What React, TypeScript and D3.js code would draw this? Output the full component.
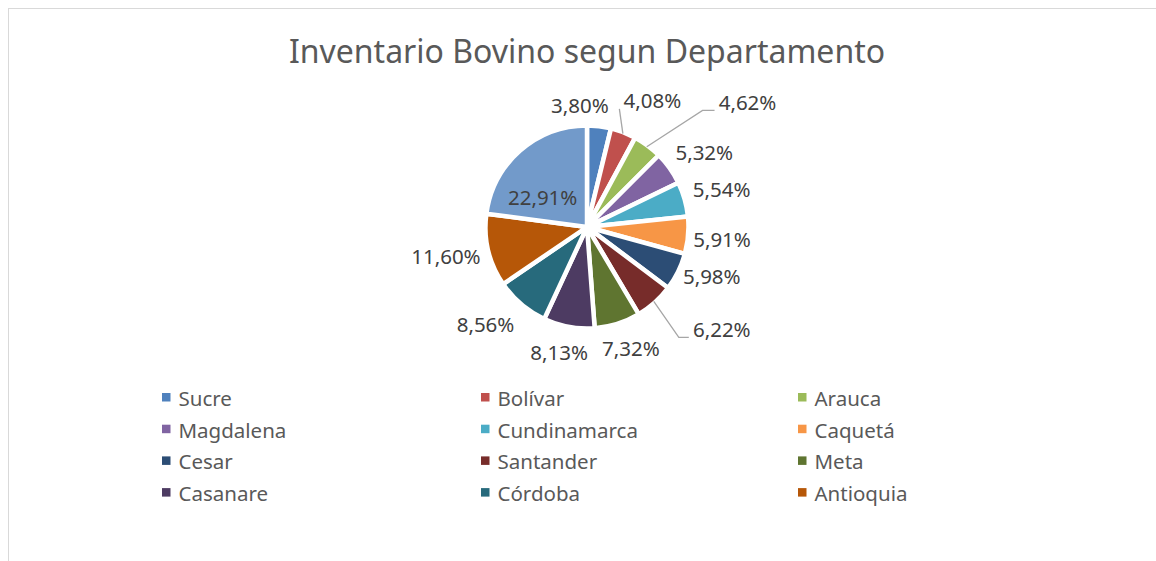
import { useEffect, useRef } from "react";
import * as d3 from "d3";

// Data (percent of the national cattle inventory)
const departamentos = [
  "Sucre", "Bolívar", "Arauca", "Magdalena", "Cundinamarca", "Caquetá",
  "Cesar", "Santander", "Meta", "Casanare", "Córdoba", "Antioquia", "Otros",
];
const porcentajes = [3.8, 4.08, 4.62, 5.32, 5.54, 5.91, 5.98, 6.22, 7.32, 8.13, 8.56, 11.6, 22.91];
const colores = [
  "#4f81bd", "#c0504d", "#9bbb59", "#8064a2", "#4bacc6", "#f79646",
  "#2c4d75", "#772c2a", "#5f7530", "#4d3b62", "#276a7c", "#b65708", "#729aca",
];

// Excel "best fit" label tweaks (layout only)
const labelNudge: [number, number][] = [
  [-23.6, 5.6], [15.5, -6.7], [77.5, -22], [4, 0], [1, -2.5], [-3.5, 2],
  [0, -6.5], [42, 7], [2, 0], [-3, 0], [-11.5, 0], [0, 0], [-12.7, 7.1],
];
const leaderIdx = [1, 2, 7];
const leaderFlat: Record<number, number> = { 1: 0, 2: 12, 7: 10 };
const legendRows = 4;

const W = 1156;
const H = 561;
const FONT = "'Noto Sans', sans-serif";

export default function App() {
  const ref = useRef<SVGSVGElement>(null);

  useEffect(() => {
    const svg = d3.select(ref.current);
    svg.selectAll("*").remove();

    const cx = 587;
    const cy = 227;
    const radius = 101.5;

    // chart area border
    svg.append("rect")
      .attr("x", 8.5).attr("y", 8.5)
      .attr("width", W + 40).attr("height", H + 40)
      .attr("fill", "#fff")
      .attr("stroke", "#d9d9d9")
      .attr("stroke-width", 1);

    // title
    svg.append("text")
      .attr("x", cx).attr("y", 63)
      .attr("text-anchor", "middle")
      .style("font-family", FONT)
      .style("font-size", "32px")
      .style("fill", "#595959")
      .text("Inventario Bovino segun Departamento");

    const data = departamentos.map((d, i) => ({ name: d, value: porcentajes[i], color: colores[i], i }));

    const pie = d3.pie<any>()
      .value(d => d.value)
      .sort(null)
      .startAngle(0)
      .endAngle(2 * Math.PI);

    const arc = d3.arc<any>().innerRadius(0).outerRadius(radius);

    const arcs = pie(data);
    const g = svg.append("g").attr("transform", `translate(${cx},${cy})`);

    g.selectAll("path.slice")
      .data(arcs)
      .enter()
      .append("path")
      .attr("class", "slice")
      .attr("d", arc)
      .attr("fill", d => d.data.color)
      .attr("stroke", "#fff")
      .attr("stroke-width", 4.5)
      .attr("stroke-linejoin", "round");

    const fmt = (v: number) => v.toFixed(2).replace(".", ",") + "%";
    const labelG = svg.append("g")
      .style("font-family", FONT)
      .style("font-size", "20.5px")
      .style("fill", "#404040");

    arcs.forEach((a, i) => {
      const mid = (a.startAngle + a.endAngle) / 2;
      const s = Math.sin(mid);
      const c = Math.cos(mid);
      const txt = fmt(a.data.value);
      const halfW = 6 * txt.length + 1;
      let lx: number;
      let ly: number;
      if (a.data.value > 20) {
        const [px, py] = d3.arc<any>().innerRadius(0).outerRadius(96).centroid(a);
        lx = cx + px;
        ly = cy + py;
      } else {
        lx = cx + s * (108 + halfW);
        ly = cy - c * 128;
      }
      lx += labelNudge[i][0];
      ly += labelNudge[i][1];

      if (leaderIdx.includes(i)) {
        const sx = cx + s * 100;
        const sy = cy - c * 100;
        const ex = lx - halfW + 2 - 4;
        const ey = ly + 8;
        const bx = ex - leaderFlat[i];
        svg.append("path")
          .attr("d", d3.line()([[sx, sy], [bx, ey], [ex, ey]]))
          .attr("fill", "none")
          .attr("stroke", "#a6a6a6")
          .attr("stroke-width", 1.3);
      }

      labelG.append("text")
        .attr("x", lx)
        .attr("y", ly)
        .attr("dy", "0.36em")
        .attr("text-anchor", "middle")
        .text(txt);
    });

    // legend (the 13th entry does not fit and is hidden, as in the original)
    const colX = [162, 481, 798];
    const legend = svg.append("g")
      .style("font-family", FONT)
      .style("font-size", "20.5px")
      .style("fill", "#595959");

    data.forEach((d, i) => {
      const row = Math.floor(i / 3);
      if (row >= legendRows) return;
      const x = colX[i % 3];
      const y = 393 + row * 31.7;
      legend.append("rect")
        .attr("x", x).attr("y", y)
        .attr("width", 8.5).attr("height", 8.5)
        .attr("fill", d.color);
      legend.append("text")
        .attr("x", x + 16.5)
        .attr("y", y + 13)
        .text(d.name);
    });
  }, []);

  return (
    <div style={{ position: "absolute", left: 0, top: 0, width: W, height: H, background: "#fff" }}>
      <svg ref={ref} width={W} height={H} style={{ display: "block" }} />
    </div>
  );
}
